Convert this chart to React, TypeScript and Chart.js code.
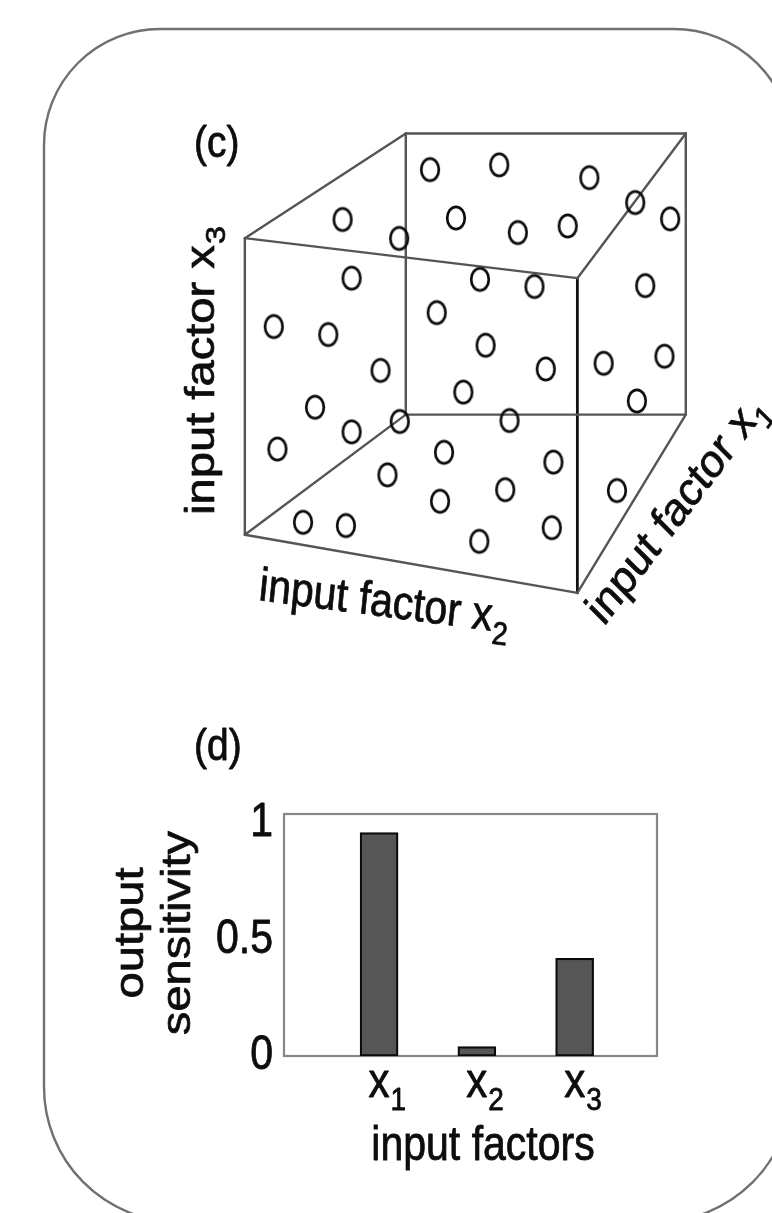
import React, { useEffect, useRef } from 'react';
import { Chart, registerables } from 'chart.js';

Chart.register(...registerables);

const PAGE_W = 772;
const PAGE_H = 1213;
const STRETCH = 1.15; // vertical stretch of the reference's lettering
const FONT = '"Liberation Sans", Arial, Helvetica, sans-serif';

// ---------- panel (c): cube, in projected units ----------
// u: 0 = front-left edge, 1 = front-right edge ; v: 0 = front-bottom-left corner, 1 = front-top-left corner
const cornerNames = ['FBL', 'FTL', 'FTR', 'FBR', 'BBL', 'BTL', 'BTR', 'BBR'];
const cornerU = [0, 0, 1, 1, 0.484, 0.484, 1.326, 1.326];
const cornerV = [0, 1, 0.865, -0.196, 0.405, 1.353, 1.353, 0.405];
const greyEdges = [
  [0, 1], [1, 2], [3, 0],
  [4, 5], [5, 6], [6, 7], [7, 4],
  [1, 5], [2, 6], [0, 4], [3, 7],
];
const darkEdges = [[2, 3]];

const sampleU = [0.557, 0.765, 1.036, 1.174, 1.279, 0.294, 0.464, 0.635, 0.821, 0.971, 0.321, 0.707, 0.871, 1.204, 0.087, 0.251, 0.577, 0.724, 0.905, 1.079, 1.262, 0.408, 0.657, 1.179, 0.211, 0.466, 0.796, 0.321, 0.098, 0.599, 0.928, 0.429, 0.783, 0.587, 1.119, 0.175, 0.304, 0.923, 0.705];
const sampleV = [1.231, 1.247, 1.204, 1.120, 1.065, 1.063, 0.999, 1.068, 1.019, 1.041, 0.865, 0.861, 0.837, 0.840, 0.702, 0.675, 0.749, 0.639, 0.559, 0.578, 0.602, 0.554, 0.481, 0.451, 0.430, 0.382, 0.385, 0.347, 0.289, 0.278, 0.245, 0.202, 0.152, 0.113, 0.149, 0.042, 0.031, 0.024, -0.022];

const CUBE_X_MIN = -0.7002;
const CUBE_X_MAX = 1.5492;
const CUBE_Y_MIN = -2.2462;
const CUBE_Y_MAX = 1.7624;

// ---------- panel (d): bar chart ----------
const factorIndex = [1, 2, 3];
const factorSub = ['1', '2', '3'];
const sensitivity = [0.96, 0.04, 0.42];
const yTickValues = [0, 0.5, 1];
const yTickText = ['0', '0.5', '1'];

type Opts = {
  angle?: number;
  size?: number;
  align?: 'left' | 'center' | 'right' | 'main-center';
  baseline?: CanvasTextBaseline;
  sub?: string;
  subSize?: number;
  subShift?: number;
  color?: string;
};

function inkText(ctx: CanvasRenderingContext2D, t: string, x: number, y: number) {
  ctx.fillText(t, x, y);
  ctx.strokeText(t, x, y);
}

function label(ctx: CanvasRenderingContext2D, text: string, x: number, y: number, o: Opts = {}) {
  const size = o.size ?? 41;
  const a = ((o.angle ?? 0) * Math.PI) / 180;
  const theta = Math.atan2(Math.sin(a) / STRETCH, Math.cos(a));
  ctx.save();
  ctx.translate(x, y);
  ctx.scale(1, STRETCH);
  ctx.rotate(theta);
  ctx.fillStyle = o.color ?? '#0d0d0d';
  ctx.strokeStyle = o.color ?? '#0d0d0d';
  ctx.lineWidth = 0.7;
  ctx.lineJoin = 'round';
  ctx.textBaseline = o.baseline ?? 'alphabetic';
  ctx.textAlign = 'left';
  const mainFont = `${size}px ${FONT}`;
  const subSize = o.subSize ?? 28;
  const subFont = `${subSize}px ${FONT}`;
  ctx.font = mainFont;
  const w = ctx.measureText(text).width;
  let sw = 0;
  if (o.sub) {
    ctx.font = subFont;
    sw = ctx.measureText(o.sub).width + 1;
    ctx.font = mainFont;
  }
  const total = w + sw;
  const align = o.align ?? 'left';
  let x0 = 0;
  if (align === 'center') x0 = -total / 2;
  else if (align === 'right') x0 = -total;
  else if (align === 'main-center') x0 = -w / 2;
  inkText(ctx, text, x0, 0);
  if (o.sub) {
    ctx.font = subFont;
    inkText(ctx, o.sub, x0 + w + 1, o.subShift ?? 11);
  }
  ctx.restore();
}

function roundedRect(ctx: CanvasRenderingContext2D, x: number, y: number, w: number, h: number, rtl: number, rtr: number, rbr: number, rbl: number) {
  ctx.beginPath();
  ctx.moveTo(x + rtl, y);
  ctx.lineTo(x + w - rtr, y);
  ctx.arcTo(x + w, y, x + w, y + rtr, rtr);
  ctx.lineTo(x + w, y + h - rbr);
  ctx.arcTo(x + w, y + h, x + w - rbr, y + h, rbr);
  ctx.lineTo(x + rbl, y + h);
  ctx.arcTo(x, y + h, x, y + h - rbl, rbl);
  ctx.lineTo(x, y + rtl);
  ctx.arcTo(x, y, x + rtl, y, rtl);
  ctx.closePath();
}

function makeRing(): HTMLCanvasElement {
  const c = document.createElement('canvas');
  c.width = 26;
  c.height = 30;
  const g = c.getContext('2d')!;
  g.lineWidth = 2.7;
  g.strokeStyle = '#0d0d0d';
  g.beginPath();
  g.ellipse(13, 15, 8.8, 11.2, 0, 0, Math.PI * 2);
  g.stroke();
  return c;
}

export default function App() {
  const cubeRef = useRef<HTMLCanvasElement>(null);
  const barRef = useRef<HTMLCanvasElement>(null);

  useEffect(() => {
    const ring = makeRing();
    const corner = (i: number) => ({ x: cornerU[i], y: cornerV[i] });
    const edgeDatasets = [
      ...greyEdges.map((e) => ({ pts: [corner(e[0]), corner(e[1])], color: '#555555', w: 2.4 })),
      ...darkEdges.map((e) => ({ pts: [corner(e[0]), corner(e[1])], color: '#111111', w: 2.8 })),
    ].map((e) => ({
      data: e.pts,
      showLine: true,
      borderColor: e.color,
      borderWidth: e.w,
      borderCapStyle: 'round' as const,
      pointRadius: 0,
      pointHoverRadius: 0,
      fill: false,
      order: 2,
    }));

    const cubePlugin = {
      id: 'cubeDeco',
      beforeDraw(chart: any) {
        const ctx: CanvasRenderingContext2D = chart.ctx;
        ctx.save();
        ctx.fillStyle = '#ffffff';
        ctx.fillRect(0, 0, PAGE_W, PAGE_H);
        ctx.strokeStyle = '#707070';
        ctx.lineWidth = 2.4;
        roundedRect(ctx, 44, 29, 748, 1193, 116, 118, 135, 135);
        ctx.stroke();
        ctx.restore();
      },
      afterDraw(chart: any) {
        const ctx: CanvasRenderingContext2D = chart.ctx;
        label(ctx, '(c)', 194, 157, { size: 39 });
        label(ctx, 'input factor x', 214, 515, { angle: -90, sub: '3' });
        label(ctx, 'input factor x', 258, 600, { angle: 7.5, sub: '2' });
        label(ctx, 'input factor x', 604, 627, { angle: -53, sub: '1' });
      },
    };

    const cube = new Chart(cubeRef.current!, {
      type: 'scatter',
      data: {
        datasets: [
          ...edgeDatasets,
          {
            data: sampleU.map((u, i) => ({ x: u, y: sampleV[i] })),
            pointStyle: ring,
            pointRadius: 11,
            pointHoverRadius: 11,
            showLine: false,
            order: 1,
          } as any,
        ],
      },
      options: {
        responsive: false,
        animation: false,
        devicePixelRatio: 1,
        events: [],
        layout: { padding: 0 },
        plugins: { legend: { display: false }, tooltip: { enabled: false } },
        scales: {
          x: { type: 'linear', min: CUBE_X_MIN, max: CUBE_X_MAX, display: false },
          y: { type: 'linear', min: CUBE_Y_MIN, max: CUBE_Y_MAX, display: false },
        },
      },
      plugins: [cubePlugin],
    } as any);

    const barPlugin = {
      id: 'barDeco',
      beforeDatasetsDraw(chart: any) {
        const ctx: CanvasRenderingContext2D = chart.ctx;
        const a = chart.chartArea;
        ctx.save();
        ctx.strokeStyle = '#878787';
        ctx.lineWidth = 2.2;
        ctx.strokeRect(a.left, a.top, a.right - a.left, a.bottom - a.top);
        ctx.restore();
      },
      afterDraw(chart: any) {
        const ctx: CanvasRenderingContext2D = chart.ctx;
        const xs = chart.scales.x;
        const ys = chart.scales.y;
        const a = chart.chartArea;
        yTickValues.forEach((v, i) => {
          label(ctx, yTickText[i], a.left - 11, ys.getPixelForValue(v), { align: 'right', baseline: 'middle' });
        });
        factorIndex.forEach((f, i) => {
          label(ctx, 'x', xs.getPixelForValue(f), a.bottom + 41, { size: 42, align: 'main-center', sub: factorSub[i], subSize: 28, subShift: 11 });
        });
        label(ctx, 'input factors', 483, 1160, { align: 'center' });
        const cy = (a.top + a.bottom) / 2;
        label(ctx, 'output', 143, cy - 2, { angle: -90, align: 'center' });
        label(ctx, 'sensitivity', 190, cy - 2, { angle: -90, align: 'center' });
        label(ctx, '(d)', 194, 760, { size: 39 });
      },
    };

    const bar = new Chart(barRef.current!, {
      type: 'bar',
      data: {
        datasets: [
          {
            data: factorIndex.map((f, i) => ({ x: f, y: sensitivity[i] })),
            backgroundColor: '#565656',
            borderColor: '#0a0a0a',
            borderWidth: 2.2,
            borderSkipped: false,
            barThickness: 38,
          },
        ],
      },
      options: {
        responsive: false,
        animation: false,
        devicePixelRatio: 1,
        events: [],
        layout: { padding: { left: 284, top: 814, right: PAGE_W - 657, bottom: PAGE_H - 1056 } },
        plugins: { legend: { display: false }, tooltip: { enabled: false } },
        scales: {
          x: { type: 'linear', min: 0.3, max: 3.57, display: false },
          y: { type: 'linear', min: 0, max: 1.04, display: false },
        },
      },
      plugins: [barPlugin],
    } as any);

    return () => {
      cube.destroy();
      bar.destroy();
    };
  }, []);

  const canvasStyle: React.CSSProperties = {
    position: 'absolute',
    left: 0,
    top: 0,
    width: PAGE_W + 'px',
    height: PAGE_H + 'px',
    display: 'block',
  };

  return (
    <div style={{ position: 'absolute', left: 0, top: 0, width: PAGE_W, height: PAGE_H, background: '#fff', overflow: 'hidden' }}>
      <canvas ref={cubeRef} width={PAGE_W} height={PAGE_H} style={canvasStyle} />
      <canvas ref={barRef} width={PAGE_W} height={PAGE_H} style={canvasStyle} />
    </div>
  );
}
